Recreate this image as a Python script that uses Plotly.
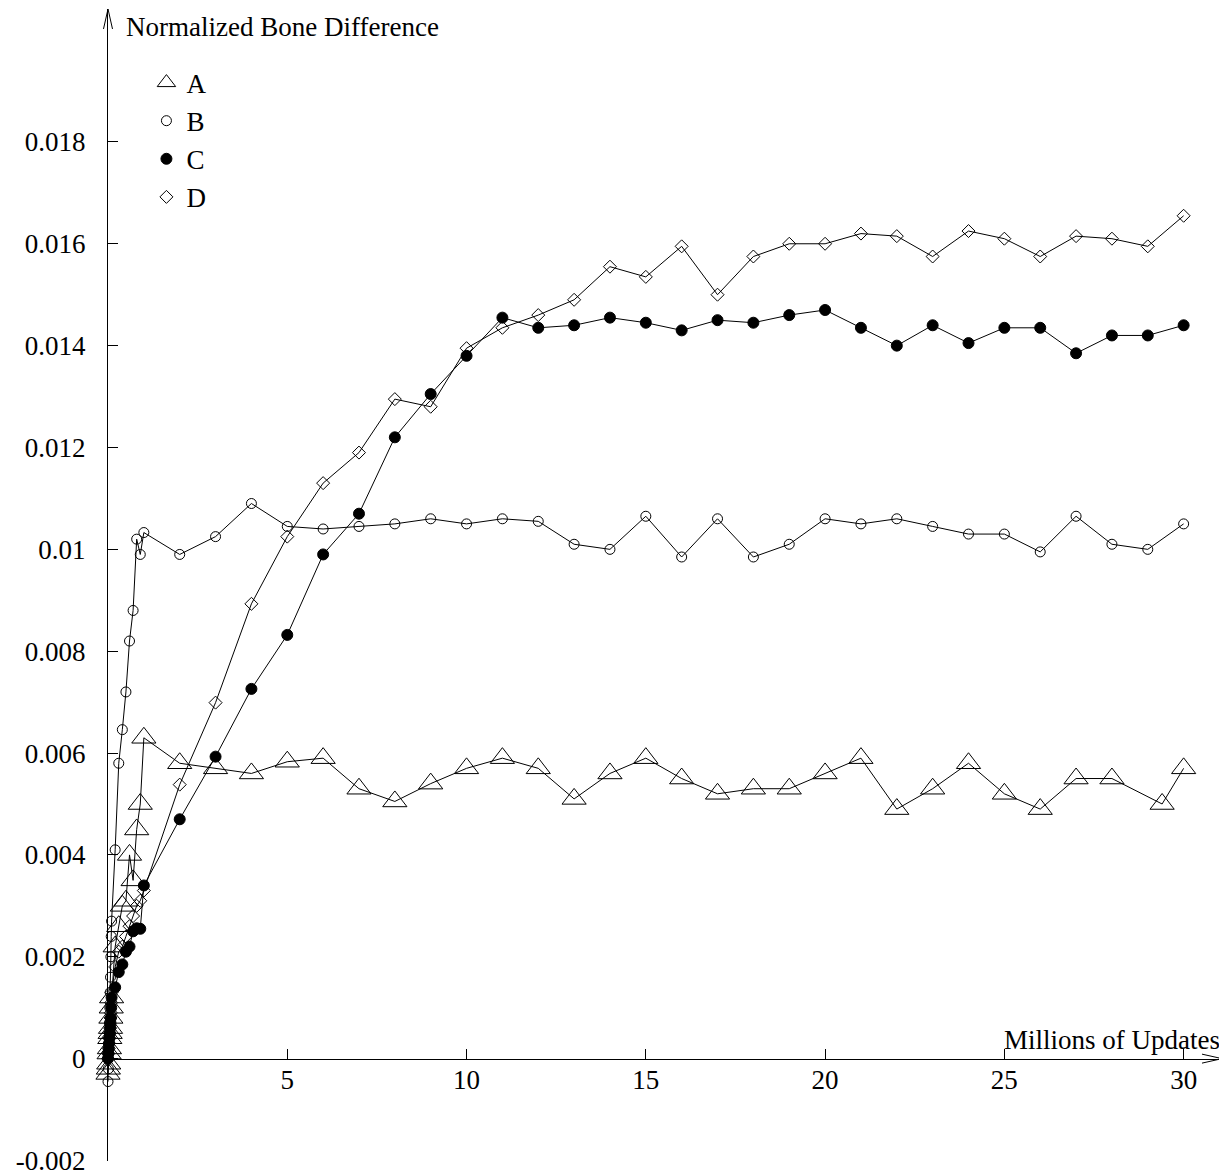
import plotly.graph_objects as go

# ---------------- data ----------------
xA = [0.0, 0.01, 0.02, 0.03, 0.04, 0.05, 0.06, 0.07, 0.08, 0.09, 0.1,
      0.2, 0.3, 0.4, 0.5, 0.6, 0.7, 0.8, 0.9, 1,
      2, 3, 4, 5, 6, 7, 8, 9, 10, 11, 12, 13, 14, 15, 16, 17, 18, 19, 20,
      21, 22, 23, 24, 25, 26, 27, 28, 29.4, 30]
yA = [-0.0003, -0.0002, -0.0001, 0.0001, 0.0002, 0.0004, 0.0005, 0.0006, 0.0008, 0.0010, 0.0012,
      0.0022, 0.0026, 0.0030, 0.0031, 0.0040, 0.0035, 0.0045, 0.0050, 0.0063,
      0.0058, 0.0057, 0.0056, 0.00583, 0.0059, 0.0053, 0.00505, 0.0054, 0.0057, 0.0059,
      0.0057, 0.0051, 0.0056, 0.0059, 0.0055, 0.0052, 0.0053, 0.0053, 0.0056,
      0.0059, 0.0049, 0.0053, 0.0058, 0.0052, 0.0049, 0.0055, 0.0055, 0.0050, 0.0057]

xB = [0.0, 0.01, 0.02, 0.03, 0.04, 0.05, 0.06, 0.07, 0.08, 0.09, 0.1,
      0.2, 0.3, 0.4, 0.5, 0.6, 0.7, 0.8, 0.9, 1,
      2, 3, 4, 5, 6, 7, 8, 9, 10, 11, 12, 13, 14, 15, 16, 17, 18, 19, 20,
      21, 22, 23, 24, 25, 26, 27, 28, 29, 30]
yB = [-0.00045, -0.0002, 0.0001, 0.0004, 0.0007, 0.0010, 0.0013, 0.0016, 0.0020, 0.0024, 0.0027,
      0.0041, 0.0058, 0.00646, 0.0072, 0.0082, 0.0088, 0.0102, 0.0099, 0.01033,
      0.0099, 0.01025, 0.0109, 0.01045, 0.0104, 0.01045, 0.0105, 0.0106, 0.0105, 0.0106,
      0.01055, 0.0101, 0.0100, 0.01065, 0.00985, 0.0106, 0.00985, 0.0101, 0.0106,
      0.0105, 0.0106, 0.01045, 0.0103, 0.0103, 0.00995, 0.01065, 0.0101, 0.0100, 0.0105]

xC = xB
yC = [0.0, 0.0001, 0.0002, 0.0003, 0.0004, 0.0005, 0.0006, 0.0007, 0.0008, 0.0010, 0.0012,
      0.0014, 0.0017, 0.00185, 0.0021, 0.0022, 0.0025, 0.00256, 0.00255, 0.0034,
      0.0047, 0.00593, 0.00726, 0.00832, 0.0099, 0.0107, 0.0122, 0.01305, 0.0138, 0.01455,
      0.01435, 0.0144, 0.01455, 0.01445, 0.0143, 0.0145, 0.01445, 0.0146, 0.0147,
      0.01435, 0.0140, 0.0144, 0.01405, 0.01435, 0.01435, 0.01385, 0.0142, 0.0142, 0.0144]

xD = xB
yD = [0.0, 0.0001, 0.0002, 0.0003, 0.0004, 0.0005, 0.0006, 0.0008, 0.0009, 0.0011, 0.0013,
      0.0018, 0.0021, 0.0022, 0.0024, 0.0026, 0.0028, 0.0030, 0.0031, 0.0033,
      0.00538, 0.00699, 0.00893, 0.01025, 0.0113, 0.0119, 0.01295, 0.0128, 0.01395, 0.01435,
      0.0146, 0.0149, 0.01555, 0.01535, 0.01595, 0.0150, 0.01575, 0.0160, 0.0160,
      0.0162, 0.01615, 0.01575, 0.01625, 0.0161, 0.01575, 0.01615, 0.0161, 0.01595, 0.01655]

series_names = ["A", "B", "C", "D"]
x_ticks = [5, 10, 15, 20, 25, 30]
y_ticks = [-0.002, 0, 0.002, 0.004, 0.006, 0.008, 0.010, 0.012, 0.014, 0.016, 0.018]
y_tick_text = ["-0.002", "0", "0.002", "0.004", "0.006", "0.008", "0.01", "0.012", "0.014", "0.016", "0.018"]
x_title = "Millions of Updates"
y_title = "Normalized Bone Difference"

# ---------------- figure ----------------
FONT = "Liberation Serif"
FS = 27
# the html page has an 8px body margin, so the figure is 8px smaller
W, H = 1219, 1167
ML, MR, MT, MB = 100, 5.3, 1, 13.5
X_MAX = 31.07
Y_MIN, Y_MAX = -0.00201, 0.02061
PW = W - ML - MR
PH = H - MT - MB

styles = [
    dict(symbol="triangle-up-open", size=21),
    dict(symbol="circle-open", size=10),
    dict(symbol="circle", size=11),
    dict(symbol="diamond-open", size=10),
]

fig = go.Figure()
for name, xs, ys, st in zip(series_names, [xA, xB, xC, xD], [yA, yB, yC, yD], styles):
    fig.add_trace(go.Scatter(
        x=xs, y=ys, name=name, mode="lines", legendgroup=name, showlegend=False,
        line=dict(color="black", width=1), cliponaxis=False, hoverinfo="skip",
    ))
    fig.add_trace(go.Scatter(
        x=xs, y=ys, name=name, mode="markers", legendgroup=name, showlegend=True,
        marker=dict(symbol=st["symbol"], size=st["size"], color="black",
                    line=dict(color="black", width=1)),
        cliponaxis=False,
    ))

x_axis_pos = (0 - Y_MIN) / (Y_MAX - Y_MIN)

# arrowheads in paper coordinates (20px long, 4.5px half-width)
ax_len, ax_half = 20.0 / PW, 4.5 / PW
ay_len, ay_half = 20.0 / PH, 4.5 / PH
x_arrow = "M {:.5f},{:.5f} L 1,{:.5f} L {:.5f},{:.5f}".format(
    1 - ax_len, x_axis_pos + ay_half, x_axis_pos, 1 - ax_len, x_axis_pos - ay_half)
y_arrow = "M {:.5f},{:.5f} L 0,1 L {:.5f},{:.5f}".format(
    -ax_half, 1 - ay_len, ax_half, 1 - ay_len)

fig.update_layout(
    width=W, height=H,
    margin=dict(l=ML, r=MR, t=MT, b=MB, autoexpand=False),
    paper_bgcolor="white", plot_bgcolor="white",
    font=dict(family=FONT, size=FS, color="black"),
    showlegend=True,
    legend=dict(x=0.0345, y=0.957, xanchor="left", yanchor="top",
                bgcolor="rgba(0,0,0,0)", traceorder="grouped", tracegroupgap=0,
                font=dict(family=FONT, size=FS)),
    xaxis=dict(range=[0, X_MAX], showgrid=False, zeroline=False,
               showline=True, linecolor="black", linewidth=1,
               anchor="free", position=x_axis_pos,
               ticks="inside", ticklen=10, tickwidth=1, tickcolor="black",
               tickvals=x_ticks, ticktext=[str(v) for v in x_ticks],
               tickfont=dict(family=FONT, size=FS), ticklabelstandoff=-3),
    yaxis=dict(range=[Y_MIN, Y_MAX], showgrid=False, zeroline=False,
               showline=True, linecolor="black", linewidth=1,
               ticks="inside", ticklen=10, tickwidth=1, tickcolor="black",
               tickvals=y_ticks, ticktext=y_tick_text, ticklabeloverflow="allow",
               tickfont=dict(family=FONT, size=FS), ticklabelstandoff=16),
    annotations=[
        dict(text=x_title, xref="paper", x=1.0, xanchor="right",
             yref="y", y=0, yanchor="bottom", yshift=2, showarrow=False,
             font=dict(family=FONT, size=FS)),
        dict(text=y_title, xref="x", x=0, xanchor="left", xshift=16,
             yref="paper", y=1, yanchor="middle", yshift=-18, showarrow=False,
             font=dict(family=FONT, size=FS)),
    ],
    shapes=[
        dict(type="path", xref="paper", yref="paper", path=x_arrow,
             line=dict(color="black", width=1)),
        dict(type="path", xref="paper", yref="paper", path=y_arrow,
             line=dict(color="black", width=1)),
    ],
)

fig.write_html("out.html")
